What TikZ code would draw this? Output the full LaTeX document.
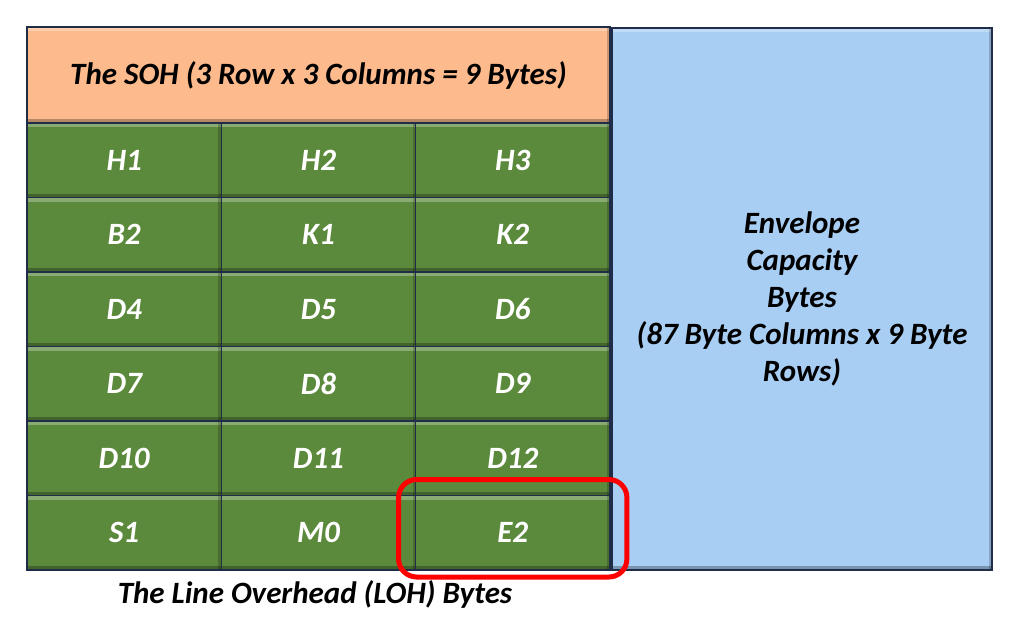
\documentclass[tikz,border=0pt]{standalone}
\usepackage{fontspec}
\setmainfont{Carlito}
\usepackage{xcolor}
\definecolor{sohorange}{HTML}{FDBA8C}
\definecolor{lohgreen}{HTML}{5C8A3C}
\definecolor{envblue}{HTML}{A9CEF3}
\definecolor{edgenavy}{HTML}{1F2D48}
\tikzset{
  bevel/.style={path picture={
    \fill[white,opacity=0.28] (path picture bounding box.north west) rectangle ([yshift=-4pt]path picture bounding box.north east);
    \fill[black,opacity=0.28] ([yshift=4pt]path picture bounding box.south west) rectangle (path picture bounding box.south east);
    \fill[black,opacity=0.2] ([xshift=-3pt]path picture bounding box.north east) rectangle (path picture bounding box.south east);}},
  bytebox/.style={draw=edgenavy, line width=1.4pt, bevel, inner sep=0pt, outer sep=0pt,
    font=\fontsize{31}{37}\selectfont\bfseries\itshape},
  cell/.style={bytebox, fill=lohgreen, text=white, minimum width=194.3pt, minimum height=74.5pt},
}
\begin{document}
\begin{tikzpicture}[x=1pt,y=-1pt]
\useasboundingbox (0,0) rectangle (1024,622);
\node [bytebox, fill=sohorange, minimum width=583pt, minimum height=96pt, anchor=north west] (soh) at (27,27) {The SOH (3 Row x 3 Columns = 9 Bytes)};
\node [bytebox, fill=envblue, minimum width=380pt, minimum height=542pt, anchor=north west, align=center] (env) at (612,28)
  {Envelope\\Capacity\\Bytes\\(87 Byte Columns x 9 Byte\\Rows)};

% row 1
\node [cell, anchor=north west, at=(soh.south west)] (h1) {H1};
\node [cell, anchor=west, at=(h1.east)] (h2) {H2};
\node [cell, anchor=west, at=(h2.east)] (h3) {H3};
% row 2
\node [cell, anchor=north, at=(h1.south)] (b2) {B2};
\node [cell, anchor=west, at=(b2.east)] (k1) {K1};
\node [cell, anchor=west, at=(k1.east)] (k2) {K2};
% row 3
\node [cell, anchor=north, at=(b2.south)] (d4) {D4};
\node [cell, anchor=west, at=(d4.east)] (d5) {D5};
\node [cell, anchor=west, at=(d5.east)] (d6) {D6};
% row 4
\node [cell, anchor=north, at=(d4.south)] (d7) {D7};
\node [cell, anchor=west, at=(d7.east)] (d8) {D8};
\node [cell, anchor=west, at=(d8.east)] (d9) {D9};
% row 5
\node [cell, anchor=north, at=(d7.south)] (d10) {D10};
\node [cell, anchor=west, at=(d10.east)] (d11) {D11};
\node [cell, anchor=west, at=(d11.east)] (d12) {D12};
% row 6
\node [cell, anchor=north, at=(d10.south)] (s1) {S1};
\node [cell, anchor=west, at=(s1.east)] (m0) {M0};
\node [cell, anchor=west, at=(m0.east)] (e2) {E2};

\node [font=\fontsize{31}{37}\selectfont\bfseries\itshape] (loh) at (315,594) {The Line Overhead (LOH) Bytes};

\draw [red, line width=5pt, rounded corners=18pt]
  ([xshift=-17pt,yshift=16pt]e2.north west) rectangle ([xshift=17pt,yshift=-7pt]e2.south east);
\end{tikzpicture}
\end{document}
